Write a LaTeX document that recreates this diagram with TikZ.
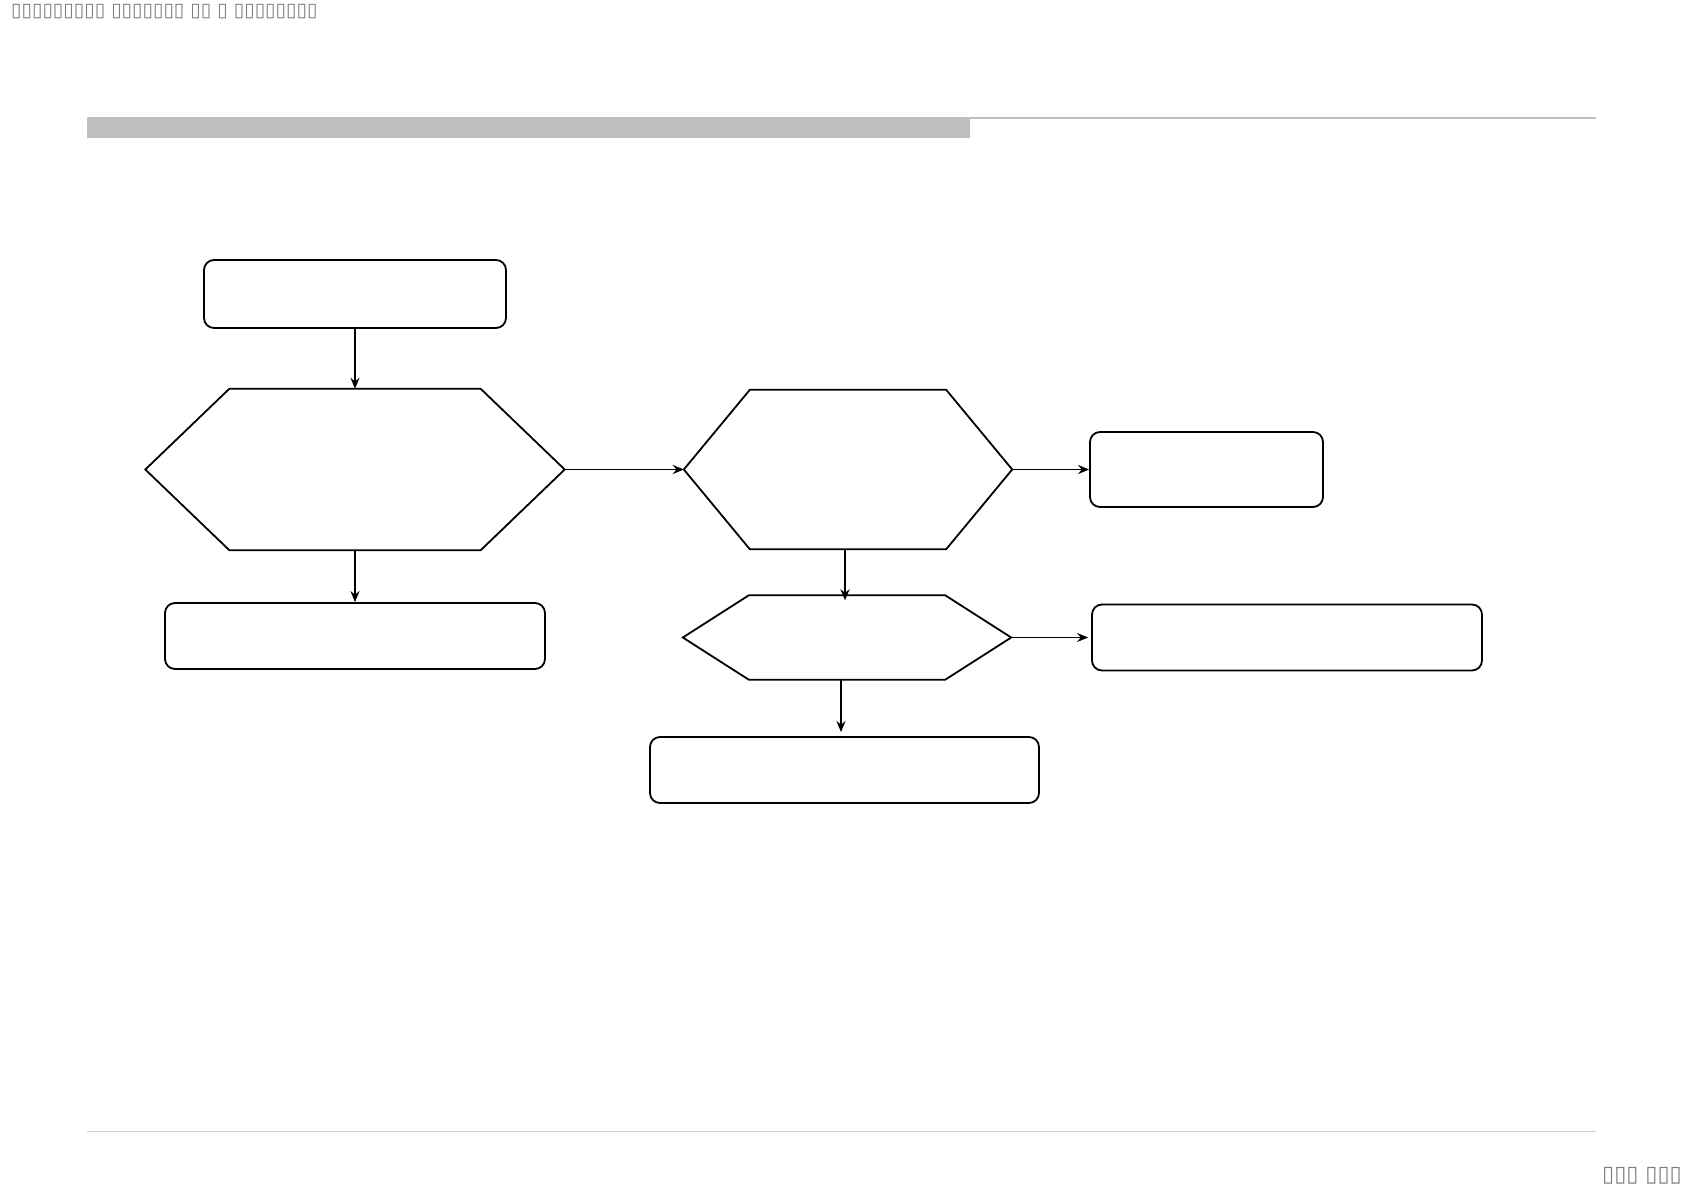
\documentclass[tikz,border=0pt]{standalone}
\usepackage{fontspec}
\usepackage{tikz}
\usetikzlibrary{arrows.meta, positioning}
\newfontfamily\tofufont{DejaVu Sans}
\definecolor{cBar}  {HTML}{BFBFBF}
\definecolor{cRule} {HTML}{CFCFCF}
\definecolor{cGlyph}{HTML}{7F7F7F}

% hexagon outline drawn over a plain rectangle node
\newcommand\hexoutline[2]{%
  \draw[shapeline] (#1.west) -- ([xshift=#2]#1.north west)
    -- ([xshift=-#2]#1.north east) -- (#1.east)
    -- ([xshift=-#2]#1.south east) -- ([xshift=#2]#1.south west) -- cycle;}

\begin{document}
\begin{tikzpicture}[
  x=1pt, y=-1pt,
  shapeline/.style={draw=black, line width=1.8pt, line join=miter},
  roundbox/.style 2 args={
    draw=black, line width=1.8pt, rounded corners=10pt,
    minimum width=#1, minimum height=#2, inner sep=0pt,
  },
  hexbox/.style 2 args={
    minimum width=#1, minimum height=#2, inner sep=0pt,
  },
  arr/.style={-{Stealth[length=11pt,width=9pt]}, line width=1.8pt},
  glyphs/.style={font=\tofufont\fontsize{#1}{#1}\selectfont, text=cGlyph,
    inner sep=0pt},
]
\useasboundingbox (0,0) rectangle (1684,1191);

%% ── header and footer ───────────────────────────────────────────────
\node[glyphs=19, anchor=west] (title) at (11,12)
  {▯▯▯▯▯▯▯▯▯ ▯▯▯▯▯▯▯ ▯▯ ▯ ▯▯▯▯▯▯▯▯};
\fill[cBar] (87,117) rectangle (970,138);
\draw[cBar, line width=2pt] (87,118) -- (1596,118);
\draw[cRule, line width=1pt] (87,1131) -- (1596,1131);
\node[glyphs=22, anchor=east] (pageno) at (1682,1176) {▯▯▯ ▯▯▯};

%% ── left column ─────────────────────────────────────────────────────
\node[roundbox={302pt}{68pt}] (start) at (355,294) {};
\node[hexbox={419pt}{161pt}] (check1) at (355,469.5) {};
\hexoutline{check1}{84pt}
\node[roundbox={380pt}{66pt}] (resultA) at (355,636) {};

%% ── middle column ───────────────────────────────────────────────────
\node[hexbox={328pt}{159pt}] (check2) at (848,469.5) {};
\hexoutline{check2}{66pt}
\node[hexbox={328pt}{84pt}] (check3) at (847,637.5) {};
\hexoutline{check3}{66pt}
\node[roundbox={389pt}{66pt}] (resultD) at (844.5,770) {};

%% ── right column ────────────────────────────────────────────────────
\node[roundbox={233pt}{75pt}] (resultB) at (1206.5,469.5) {};
\node[roundbox={390pt}{66pt}] (resultC) at (1287,637.5) {};

%% ── arrows ──────────────────────────────────────────────────────────
\draw[arr] (start.south) -- (check1.north);
\draw[arr] (check1.south) -- (resultA.north);
\draw[arr] (check1.east) -- (check2.west);
\draw[arr] (check2.east) -- (resultB.west);
\draw[arr] ([xshift=-3pt]check2.south)
  -- ([xshift=-3pt,yshift=-5pt]check2.south |- check3.north);
\draw[arr] (check3.east) -- ([xshift=-3pt]resultC.west);
\draw[arr] ([xshift=-6pt]check3.south)
  -- ([xshift=-6pt,yshift=4pt]check3.south |- resultD.north);

\end{tikzpicture}
\end{document}
